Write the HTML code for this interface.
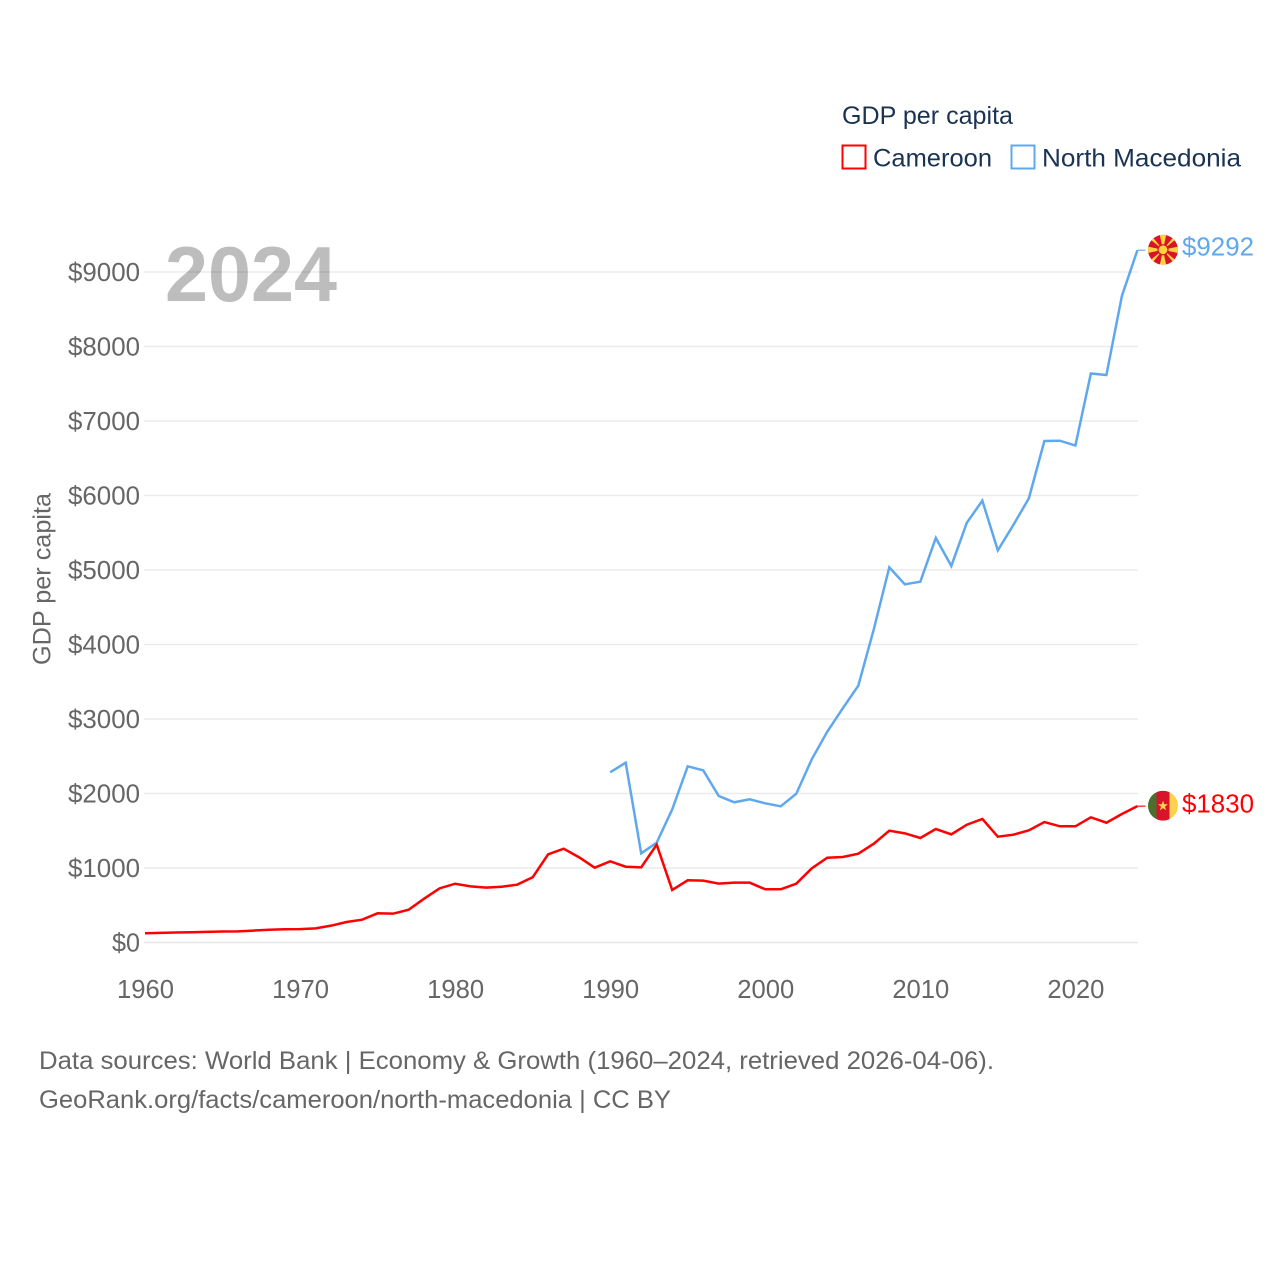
<!DOCTYPE html>
<html>
<head>
<meta charset="utf-8">
<title>GDP per capita: Cameroon and North Macedonia</title>
<style>
html,body{margin:0;padding:0;background:#fff;width:1280px;height:1280px;overflow:hidden}
svg{display:block}
text{font-family:"Liberation Sans",sans-serif}
</style>
</head>
<body>
<svg id="chart" xmlns="http://www.w3.org/2000/svg" width="1280" height="1280" viewBox="0 0 1280 1280">
  <rect width="1280" height="1280" fill="#fff"/>
  <text x="165" y="301" font-size="78" font-weight="700" fill="#bdbdbd" textLength="172" lengthAdjust="spacingAndGlyphs">2024</text>
  <g id="grid"></g>
  <g id="yticks"></g>
  <g id="xticks"></g>
  <text transform="translate(50.5,579) rotate(-90)" text-anchor="middle" font-size="25" fill="#666" textLength="172" lengthAdjust="spacingAndGlyphs">GDP per capita</text>
  <g id="series"></g>

  <g>
    <text x="842" y="124" font-size="25" fill="#1a3353" textLength="171" lengthAdjust="spacingAndGlyphs">GDP per capita</text>
    <g>
      <rect x="842.5" y="145.5" width="23" height="23" fill="#fff" stroke="#ff0000" stroke-width="2"/>
      <text x="873" y="166.5" font-size="25" fill="#1a3353" textLength="119" lengthAdjust="spacingAndGlyphs">Cameroon</text>
    </g>
    <g>
      <rect x="1011.5" y="145.5" width="23" height="23" fill="#fff" stroke="#5fa8ee" stroke-width="2"/>
      <text x="1042" y="166.5" font-size="25" fill="#1a3353" textLength="199" lengthAdjust="spacingAndGlyphs">North Macedonia</text>
    </g>
  </g>

  <defs>
    <clipPath id="clip-mk"><circle cx="1163" cy="249.8" r="15"/></clipPath>
    <clipPath id="clip-cm"><circle cx="1163" cy="805.7" r="15"/></clipPath>
  </defs>
  <g id="flag-mk" clip-path="url(#clip-mk)">
    <rect x="1148" y="234.8" width="30" height="30" fill="#d8142a"/>
    <polygon points="1163,249.8 1159.6,234 1166.4,234" fill="#ffd23f"/>
    <polygon points="1163,249.8 1159.6,266 1166.4,266" fill="#ffd23f"/>
    <polygon points="1163,249.8 1147,246.4 1147,253.2" fill="#ffd23f"/>
    <polygon points="1163,249.8 1179,246.4 1179,253.2" fill="#ffd23f"/>
    <polygon points="1163,249.8 1149.1,238.4 1151.6,235.9" fill="#ffd23f"/>
    <polygon points="1163,249.8 1176.9,238.4 1174.4,235.9" fill="#ffd23f"/>
    <polygon points="1163,249.8 1149.1,261.2 1151.6,263.7" fill="#ffd23f"/>
    <polygon points="1163,249.8 1176.9,261.2 1174.4,263.7" fill="#ffd23f"/>
    <circle cx="1163" cy="249.8" r="5.6" fill="#d8142a"/>
    <circle cx="1163" cy="249.8" r="4.4" fill="#ffd23f"/>
  </g>
  <g id="flag-cm" clip-path="url(#clip-cm)">
    <rect x="1148" y="790.7" width="8.5" height="30" fill="#4b6f2f"/>
    <rect x="1156.5" y="790.7" width="13" height="30" fill="#d8142a"/>
    <rect x="1169.5" y="790.7" width="8.5" height="30" fill="#ffd24d"/>
    <polygon points="1163,800.7 1164.3,804.3 1168,804.3 1165,806.6 1166.1,810.3 1163,808.1 1159.9,810.3 1161,806.6 1158,804.3 1161.7,804.3" fill="#ffd24d"/>
  </g>
  <text id="label-mk" x="1182" y="255.5" font-size="25.5" fill="#5fa8ee" textLength="72" lengthAdjust="spacingAndGlyphs">$9292</text>
  <text id="label-cm" x="1182" y="812.5" font-size="25.5" fill="#ff0000" textLength="72" lengthAdjust="spacingAndGlyphs">$1830</text>

  <text x="39" y="1069" font-size="25" fill="#666" textLength="955" lengthAdjust="spacingAndGlyphs">Data sources: World Bank | Economy &amp; Growth (1960–2024, retrieved 2026-04-06).</text>
  <text x="39" y="1108" font-size="25" fill="#666" textLength="632" lengthAdjust="spacingAndGlyphs">GeoRank.org/facts/cameroon/north-macedonia | CC BY</text>
</svg>
<script>
const yTickValues = [0, 1000, 2000, 3000, 4000, 5000, 6000, 7000, 8000, 9000];
const xTickYears = [1960, 1970, 1980, 1990, 2000, 2010, 2020];
const cameroonStartYear = 1960;
const cameroonValues = [125, 130, 135, 137, 142, 148, 150, 160, 172, 178, 180, 190, 226, 275, 306, 392, 387, 440, 588, 727, 789, 754, 736, 749, 776, 875, 1184, 1259, 1143, 1004, 1090, 1017, 1009, 1313, 705, 835, 830, 790, 803, 803, 714, 714, 790, 996, 1138, 1148, 1192, 1326, 1501, 1465, 1403, 1523, 1452, 1581, 1658, 1420, 1447, 1506, 1617, 1560, 1560, 1680, 1608, 1725, 1830];
const macedoniaStartYear = 1990;
const macedoniaValues = [2284, 2414, 1197, 1340, 1787, 2365, 2311, 1966, 1882, 1922, 1868, 1828, 1997, 2459, 2830, 3143, 3447, 4204, 5036, 4808, 4843, 5430, 5054, 5635, 5930, 5264, 5604, 5962, 6731, 6735, 6671, 7638, 7617, 8678, 9292];

const NS = 'http://www.w3.org/2000/svg';
const xScale = function (year) { return 145 + (year - 1960) * (1137.4 - 145) / 64; };
const yScale = function (value) { return 942.5 - value * 0.07450; };
const gridGroup = document.getElementById('grid');
const yTickGroup = document.getElementById('yticks');
const xTickGroup = document.getElementById('xticks');
const seriesGroup = document.getElementById('series');

yTickValues.forEach(function (v) {
  const line = document.createElementNS(NS, 'line');
  
  
  line.setAttribute('x1', 144);
  line.setAttribute('x2', 1138);
  line.setAttribute('y1', yScale(v));
  line.setAttribute('y2', yScale(v));
  line.setAttribute('stroke', v === 0 ? '#e6e6e6' : 'rgba(0,0,0,0.08)');
  line.setAttribute('stroke-width', 1.5);
  gridGroup.appendChild(line);

  const label = document.createElementNS(NS, 'text');
  
  
  const txt = '$' + v;
  label.textContent = txt;
  const w = v === 0 ? 28 : 72;
  label.setAttribute('x', 140 - w);
  label.setAttribute('y', yScale(v) + 9);
  label.setAttribute('font-size', 25.5);
  label.setAttribute('fill', '#666');
  label.setAttribute('textLength', w);
  label.setAttribute('lengthAdjust', 'spacingAndGlyphs');
  yTickGroup.appendChild(label);
});

xTickYears.forEach(function (year) {
  const label = document.createElementNS(NS, 'text');
  
  
  label.textContent = String(year);
  label.setAttribute('x', xScale(year) - 28);
  label.setAttribute('y', 998);
  label.setAttribute('font-size', 26);
  label.setAttribute('fill', '#666');
  label.setAttribute('textLength', 57);
  label.setAttribute('lengthAdjust', 'spacingAndGlyphs');
  xTickGroup.appendChild(label);
});

function drawSeries(name, startYear, values, color) {
  const pts = values.map(function (v, i) {
    return xScale(startYear + i).toFixed(2) + ',' + yScale(v).toFixed(2);
  });
  const poly = document.createElementNS(NS, 'polyline');
  
  
  poly.setAttribute('points', pts.join(' '));
  poly.setAttribute('fill', 'none');
  poly.setAttribute('stroke', color);
  poly.setAttribute('stroke-width', 2.5);
  poly.setAttribute('stroke-linejoin', 'miter');
  seriesGroup.appendChild(poly);

  const lastY = yScale(values[values.length - 1]);
  const connector = document.createElementNS(NS, 'line');
  
  
  connector.setAttribute('x1', xScale(2024));
  connector.setAttribute('x2', xScale(2024) + 8);
  connector.setAttribute('y1', lastY);
  connector.setAttribute('y2', lastY);
  connector.setAttribute('stroke', color);
  connector.setAttribute('stroke-width', 1.4);
  connector.setAttribute('opacity', 0.8);
  seriesGroup.appendChild(connector);
}
drawSeries('macedonia-line', macedoniaStartYear, macedoniaValues, '#5fa8ee');
drawSeries('cameroon-line', cameroonStartYear, cameroonValues, '#ff0000');
</script>
</body>
</html>
